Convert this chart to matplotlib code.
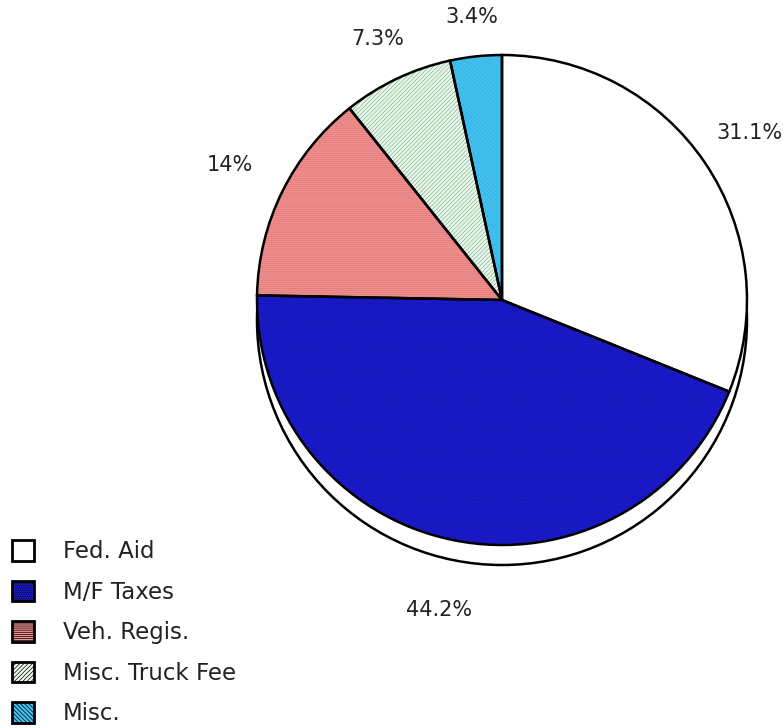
import numpy as np
import matplotlib.pyplot as plt
from matplotlib.patches import Circle, Patch

plt.rcParams['font.family'] = ['DejaVu Sans']
plt.rcParams['hatch.linewidth'] = 0.5

sources = ['Fed. Aid', 'M/F Taxes', 'Veh. Regis.', 'Misc. Truck Fee', 'Misc.']
shares = [31.1, 44.2, 14, 7.3, 3.4]
pct_labels = ['31.1%', '44.2%', '14%', '7.3%', '3.4%']
label_dist = [1.22, 1.29, 1.24, 1.18, 1.16]

fills = ['#ffffff', '#1c1cd2', '#f29090', '#eef8ee', '#44c0ee']
hatch_colors = ['#ffffff', '#10109c', '#dc7878', '#7cb88c', '#34aee0']
hatches = ['', '.........', '--------', '////////', '\\\\\\\\\\\\\\\\']

W, H = 783, 728
fig = plt.figure(figsize=(W / 100, H / 100), dpi=100)
ax = fig.add_axes([0, 0, 1, 1])

cx, cy, r = 502, H - 300, 245

# raised base under the pie
ax.add_patch(Circle((cx, cy - 20), r, facecolor='white', edgecolor='black', lw=1.8, zorder=1))

# filled + hatched wedges
wedges, _ = ax.pie(shares, center=(cx, cy), radius=r, startangle=90, counterclock=False,
                   colors=fills, wedgeprops=dict(linewidth=0), frame=True)
for w, h, hc in zip(wedges, hatches, hatch_colors):
    w.set_hatch(h)
    w.set_edgecolor(hc)
    w.set_zorder(2)

# percent labels outside each slice
for w, lab, d in zip(wedges, pct_labels, label_dist):
    ang = np.deg2rad((w.theta1 + w.theta2) / 2)
    ax.text(cx + d * r * np.cos(ang), cy + d * r * np.sin(ang), lab, fontsize=15,
            color='#222222', ha='center', va='center')

# black outlines on top
outl, _ = ax.pie(shares, center=(cx, cy), radius=r, startangle=90, counterclock=False,
                 wedgeprops=dict(fill=False, edgecolor='black', linewidth=1.8), frame=True)
for w in outl:
    w.set_zorder(3)

ax.set_xlim(0, W)
ax.set_ylim(0, H)
ax.set_aspect('equal')
ax.axis('off')

handles = [Patch(facecolor=f, edgecolor='black', hatch=h, linewidth=2) for f, h in zip(fills, hatches)]
leg = fig.legend(handles, sources, loc='lower left', bbox_to_anchor=(0.006, -0.006), frameon=False,
                 fontsize=16.5, handlelength=1.0, handleheight=1.0, labelspacing=0.76, handletextpad=1.25,
                 borderaxespad=0.0, borderpad=0.3)
for t in leg.get_texts():
    t.set_color('#222222')

fig.savefig('out.png', dpi=100)
